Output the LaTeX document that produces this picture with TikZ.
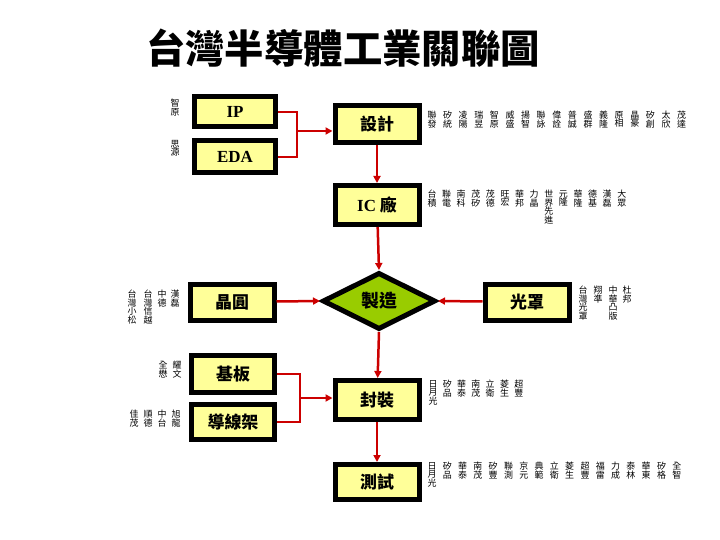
\documentclass[tikz,border=0pt]{standalone}
\usepackage{fontspec}
\setmainfont{Liberation Serif}
\newfontfamily\cjk{Noto Sans CJK TC}
\usepackage{tikz}
\usetikzlibrary{shapes.geometric, arrows.meta, calc}
\definecolor{boxyellow}{RGB}{255,255,153}
\definecolor{makegreen}{RGB}{153,204,0}
\definecolor{linered}{RGB}{204,0,0}
\newcommand\sidefont{\cjk\fontsize{9}{8.6}\selectfont}
\tikzset{
  unitbox/.style={rectangle, draw=black, fill=boxyellow, line width=5bp, minimum width=84bp,
    minimum height=36bp, inner sep=0pt, font=\cjk\bfseries\fontsize{17}{17}\selectfont},
  makediamond/.style={diamond, draw=black, fill=makegreen, line width=5bp, aspect=1.9,
    minimum width=113bp, minimum height=57bp, inner sep=0pt, font=\cjk\bfseries\fontsize{18}{18}\selectfont},
  flowarrow/.style={-{Triangle[length=7bp,width=7bp]}, line width=2.5bp, color=linered},
  flowline/.style={line width=2.5bp, color=linered},
  sidecol/.style={anchor=north, inner sep=0pt, align=center, font=\sidefont}
}
\begin{document}
\begin{tikzpicture}[x=1bp, y=-1bp]
  \useasboundingbox (0,0) rectangle (720,540);
  % title
  \node[font=\cjk\bfseries\fontsize{39.5}{39.5}\selectfont] (title) at (343,48) {台灣半導體工業關聯圖};
  % flow blocks
  \node[unitbox, minimum width=81bp, minimum height=30bp] (ip) at (235,112) {\rmfamily\bfseries IP};
  \node[unitbox, minimum width=81bp, minimum height=32bp] (eda) at (235,157) {\rmfamily\bfseries EDA};
  \node[unitbox, minimum height=37bp] (design) at (377,124) {設計};
  \node[unitbox, minimum height=39bp] (ic) at (377,205) {{\rmfamily\bfseries IC} 廠};
  \node[makediamond] (make) at (379,301) {製造};
  \node[unitbox, minimum height=36bp] (mask) at (527,302) {光罩};
  \node[unitbox, minimum height=36bp] (wafer) at (232,302) {晶圓};
  \node[unitbox, minimum width=83bp, minimum height=37bp] (sub) at (233,374) {基板};
  \node[unitbox, minimum width=83bp, minimum height=35bp] (lead) at (233,422) {導線架};
  \node[unitbox, minimum height=39bp] (pack) at (377,400) {封裝};
  \node[unitbox, minimum height=35bp] (test) at (377,482) {測試};
  % connectors
  \coordinate (topjoin) at (297,131);
  \coordinate (lowjoin) at (300,398);
  \draw[flowline] (ip.east) -| (topjoin) |- (eda.east);
  \draw[flowarrow] (topjoin) -- (topjoin -| design.west);
  \draw[flowarrow] (design) -- (ic);
  \draw[flowarrow] (ic) -- (make.north);
  \draw[flowarrow] (wafer) -- (make.west);
  \draw[flowarrow] (mask) -- (make.east);
  \draw[flowarrow] (make.south) -- (pack);
  \draw[flowline] (sub.east) -| (lowjoin) |- (lead.east);
  \draw[flowarrow] (lowjoin) -- (lowjoin -| pack.west);
  \draw[flowarrow] (pack) -- (test);
  % company names
  \node[sidecol] (ipco) at (175,99) {智\\原};
  \node[sidecol] (edaco) at (175,140) {思\\源};
  \foreach \name [count=\i from 0] in {{聯\\發},{矽\\統},{凌\\陽},{瑞\\昱},{智\\原},{威\\盛},
      {揚\\智},{聯\\詠},{偉\\詮},{普\\誠},{盛\\群},{義\\隆},{原\\相},{晶\\豪},{矽\\創},{太\\欣},{茂\\達}}
    \node[sidecol] (dsg\i) at ({432+15.6*\i},111) {\name};
  \foreach \name [count=\i from 0] in {{台\\積},{聯\\電},{南\\科},{茂\\矽},{茂\\德},{旺\\宏},{華\\邦},
      {力\\晶},{世\\界\\先\\進},{元\\隆},{華\\隆},{德\\基},{漢\\磊},{大\\眾}}
    \node[sidecol] (fab\i) at ({432+14.6*\i},190) {\name};
  \foreach \name/\x [count=\i] in {{台\\灣\\小\\松}/132,{台\\灣\\信\\越}/148,{中\\德}/162,{漢\\磊}/175}
    \node[sidecol] (waf\i) at (\x,290) {\name};
  \foreach \name/\x [count=\i] in {{台\\灣\\光\\罩}/583,{翔\\準}/598,{中\\華\\凸\\版}/613,{杜\\邦}/627}
    \node[sidecol] (msk\i) at (\x,286) {\name};
  \foreach \name/\x [count=\i] in {{全\\懋}/163,{耀\\文}/177}
    \node[sidecol] (sbs\i) at (\x,361) {\name};
  \foreach \name/\x [count=\i] in {{佳\\茂}/134,{順\\德}/148,{中\\台}/162,{旭\\龍}/176}
    \node[sidecol] (ldf\i) at (\x,410) {\name};
  \foreach \name [count=\i from 0] in {{日\\月\\光},{矽\\品},{華\\泰},{南\\茂},{立\\衛},{菱\\生},{超\\豐}}
    \node[sidecol] (pkg\i) at ({433+14.3*\i},380) {\name};
  \foreach \name [count=\i from 0] in {{日\\月\\光},{矽\\品},{華\\泰},{南\\茂},{矽\\豐},{聯\\測},{京\\元},
      {典\\範},{立\\衛},{菱\\生},{超\\豐},{福\\雷},{力\\成},{泰\\林},{華\\東},{矽\\格},{全\\智}}
    \node[sidecol] (tst\i) at ({432+15.3*\i},462) {\name};
\end{tikzpicture}
\end{document}
